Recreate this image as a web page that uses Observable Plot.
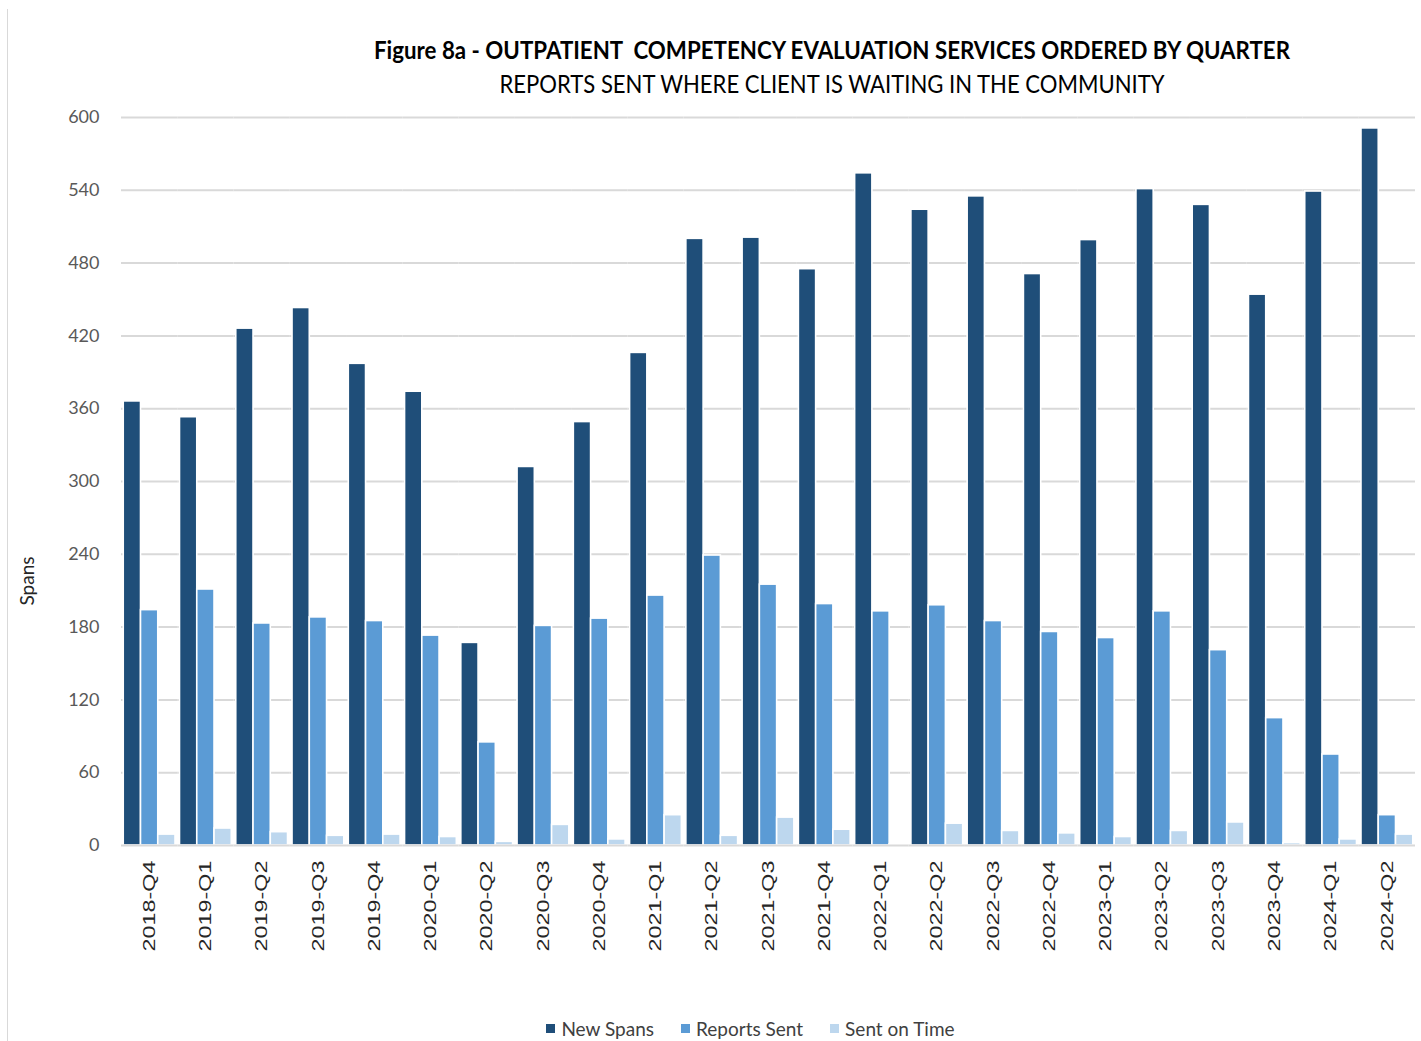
<!DOCTYPE html>
<html>
<head>
<meta charset="utf-8">
<script src="https://cdn.jsdelivr.net/npm/d3@7"></script>
<script src="https://cdn.jsdelivr.net/npm/@observablehq/plot@0.6"></script>
<style>
  html, body { margin: 0; padding: 0; background: #fff; }
  #wrap { position: relative; width: 1421px; height: 1041px; overflow: hidden; font-family: Lato, "Open Sans", sans-serif; }
  #edge { position: absolute; left: 7px; top: 9px; bottom: 0; width: 1px; background: #d9d9d9; }
  .head { position: absolute; left: 832px; white-space: nowrap; color: #000; font-size: 25px; line-height: 25px; transform-origin: center; }
  #title { top: 37px; font-weight: 700; }
  #subtitle { top: 71px; font-weight: 400; }
  #chart { position: absolute; left: 0; top: 100px; }
  #ylabel { position: absolute; left: 26px; top: 581px; transform: translate(-50%, -50%) rotate(-90deg); font-size: 19px; color: #262626; white-space: nowrap; }
  #legend { position: absolute; top: 1017px; left: 0; width: 1501px; display: flex; justify-content: center; gap: 27px; font-size: 19px; color: #404040; }
  #legend .item { display: flex; align-items: center; gap: 6px; }
  #legend .sw { width: 9px; height: 9px; display: inline-block; }
</style>
</head>
<body>
<div id="wrap">
  <div id="edge"></div>
  <div class="head" id="title">Figure 8a - OUTPATIENT&nbsp; COMPETENCY EVALUATION SERVICES ORDERED BY QUARTER</div>
  <div class="head" id="subtitle">REPORTS SENT WHERE CLIENT IS WAITING IN THE COMMUNITY</div>
  <div id="chart"></div>
  <div id="ylabel">Spans</div>
  <div id="legend"></div>
</div>
<script>
// Quarters on the x axis
const quarters = [
  "2018-Q4",
  "2019-Q1", "2019-Q2", "2019-Q3", "2019-Q4",
  "2020-Q1", "2020-Q2", "2020-Q3", "2020-Q4",
  "2021-Q1", "2021-Q2", "2021-Q3", "2021-Q4",
  "2022-Q1", "2022-Q2", "2022-Q3", "2022-Q4",
  "2023-Q1", "2023-Q2", "2023-Q3", "2023-Q4",
  "2024-Q1", "2024-Q2"
];

// Series values, one per quarter
const newSpans    = [366, 353, 426, 443, 397, 374, 167, 312, 349, 406, 500, 501, 475, 554, 524, 535, 471, 499, 541, 528, 454, 539, 591];
const reportsSent = [194, 211, 183, 188, 185, 173,  85, 181, 187, 206, 239, 215, 199, 193, 198, 185, 176, 171, 193, 161, 105,  75,  25];
const sentOnTime  = [  9,  14,  11,   8,   9,   7,   3,  17,   5,  25,   8,  23,  13,   1,  18,  12,  10,   7,  12,  19,   2,   5,   9];

const seriesNames  = ["New Spans", "Reports Sent", "Sent on Time"];
const seriesColors = ["#1f4e79", "#5b9bd5", "#bdd7ee"];

// Y axis ticks
const yTicks = [0, 60, 120, 180, 240, 300, 360, 420, 480, 540, 600];

// Long-format table for the grouped bars
const seriesValues = [newSpans, reportsSent, sentOnTime];
const rows = [];
quarters.forEach((q, i) => {
  seriesNames.forEach((s, j) => rows.push({quarter: q, series: s, value: seriesValues[j][i]}));
});

const chart = Plot.plot({
  width: 1421,
  height: 866,
  marginTop: 17,
  marginBottom: 121,
  marginLeft: 121,
  marginRight: 6,
  style: {fontFamily: "Lato, sans-serif", fontSize: "18px", color: "#595959", background: "transparent", overflow: "visible"},
  facet: {data: rows, x: "quarter"},
  fx: {domain: quarters, padding: 0, round: false, axis: "bottom", tickRotate: -90, tickSize: 0, tickPadding: 15, label: null},
  x: {domain: seriesNames, axis: null, round: false, paddingInner: 0, paddingOuter: 0.13},
  y: {domain: [0, 600], ticks: yTicks, tickSize: 0, tickPadding: 22, label: null},
  color: {domain: seriesNames, range: seriesColors},
  marks: [
    Plot.ruleY(yTicks.filter(d => d > 0), {stroke: "#d9d9d9", strokeWidth: 2}),
    Plot.barY(rows, {x: "series", y: "value", fill: "series", stroke: "#ffffff", strokeWidth: 1.6}),
    Plot.ruleY([0], {stroke: "#d9d9d9", strokeWidth: 2})
  ]
});
document.getElementById("chart").appendChild(chart);

// Quarter labels: Arial-style, drawn tall and narrow
d3.select(chart).selectAll('g[aria-label="fx-axis tick label"]')
  .attr("font-family", "'Liberation Sans', Arial, sans-serif")
  .attr("font-size", 16)
  .attr("fill", "#262626")
  .selectAll("text")
  .attr("transform", function () {
    return (this.getAttribute("transform") || "") + " scale(1.46,1)";
  });

// Legend
const legend = d3.select("#legend");
seriesNames.forEach((s, i) => {
  const item = legend.append("div").attr("class", "item");
  item.append("span").attr("class", "sw").style("background", seriesColors[i]);
  item.append("span").text(s);
});

// Fit the heading lines to their set widths
function fitHeads() {
  [["title", 916], ["subtitle", 665]].forEach(([id, w]) => {
    const el = document.getElementById(id);
    el.style.transform = "none";
    const natural = el.getBoundingClientRect().width;
    el.style.transform = `translateX(-50%) scaleX(${w / natural})`;
  });
}
fitHeads();
if (document.fonts && document.fonts.ready) document.fonts.ready.then(fitHeads);
</script>
</body>
</html>
